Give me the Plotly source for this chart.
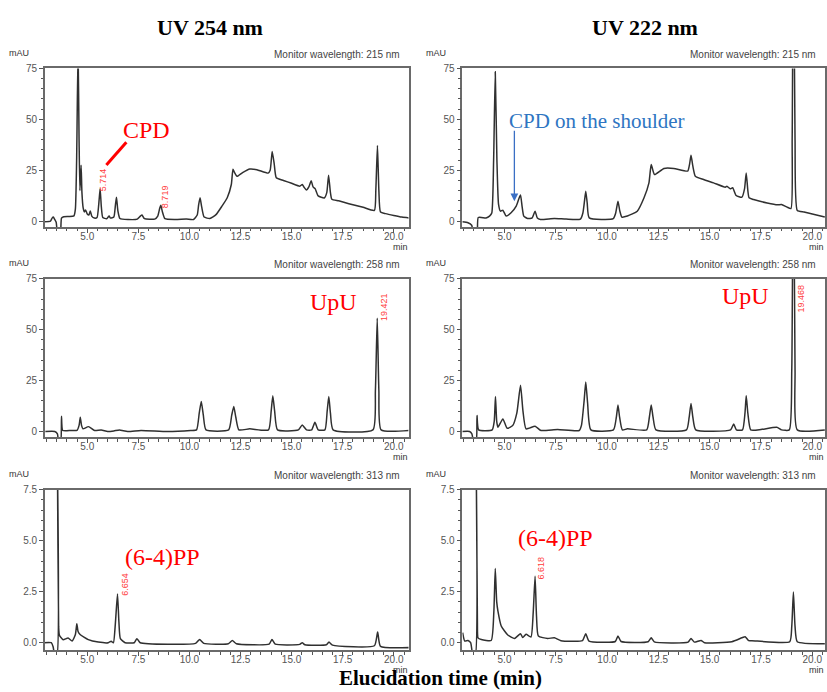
import plotly.graph_objects as go

W, H = 827, 692

# ---------------- data (time in min, absorbance in mAU) ----------------
t_254_215 = [2.88, 3.2, 3.28, 3.34, 3.4, 3.48, 3.55, 3.68, 3.74, 3.85, 4.1, 4.35, 4.42, 4.48, 4.55, 4.6, 4.64, 4.7, 4.74, 4.8, 4.86, 4.92, 5.0, 5.08, 5.15, 5.22, 5.35, 5.48, 5.56, 5.63, 5.69, 5.76, 5.95, 6.07, 6.14, 6.3, 6.38, 6.43, 6.5, 6.6, 7.0, 7.45, 7.6, 7.68, 7.8, 8.3, 8.45, 8.55, 8.6, 8.68, 8.8, 9.3, 9.85, 10.2, 10.38, 10.45, 10.52, 10.6, 10.72, 11.0, 11.3, 11.6, 11.85, 12.05, 12.13, 12.2, 12.33, 12.6, 12.95, 13.3, 13.85, 13.95, 14.05, 14.15, 14.25, 14.6, 15.0, 15.4, 15.52, 15.6, 15.72, 15.85, 15.96, 16.05, 16.15, 16.3, 16.6, 16.72, 16.81, 16.9, 16.97, 17.3, 17.8, 18.5, 19.05, 19.12, 19.2, 19.27, 19.35, 19.6, 20.0, 20.4, 20.8]
a_254_215 = [-0.3, 0.0, 1.5, 2.0, 1.0, -0.5, -6, -6, 1.5, 2.2, 2.3, 2.6, 6, 30, 85, 40, 15, 27.5, 14, 6.5, 4.5, 5.5, 3.5, 3.0, 5.0, 2.5, 1.5, 1.8, 8, 15.9, 7, 1.8, 1.2, 2.5, 1.5, 2.0, 8, 11.8, 5, 1.3, 0.8, 1.0, 2.5, 3.0, 1.2, 1.0, 2.5, 6.5, 7.8, 4.5, 1.2, 0.8, 1.0, 0.8, 3, 8, 11.5, 7, 2, 1.3, 3.2, 7.5, 11.5, 18, 25.5, 24.0, 22.0, 23.8, 25.6, 25.3, 23.6, 25, 34.2, 28, 21.3, 20, 18.6, 17.2, 18.0, 16.8, 15.3, 17, 19.8, 16.8, 16.0, 12.4, 11.4, 14, 22.6, 14, 10.8, 10.0, 8.6, 6.8, 5.3, 15, 37.2, 15, 4.5, 3.7, 2.8, 2.0, 1.5]

t_222_215 = [2.94, 3.22, 3.4, 3.5, 3.66, 3.72, 4.1, 4.27, 4.38, 4.47, 4.55, 4.63, 4.71, 4.8, 4.92, 5.08, 5.32, 5.57, 5.7, 5.78, 5.86, 5.94, 6.13, 6.35, 6.49, 6.6, 6.75, 7.43, 8.0, 8.7, 8.82, 8.9, 8.96, 9.03, 9.13, 10.3, 10.42, 10.53, 10.62, 10.72, 10.99, 11.47, 11.8, 12.04, 12.15, 12.31, 12.77, 13.25, 13.93, 14.02, 14.09, 14.18, 14.3, 14.7, 15.19, 15.76, 15.84, 16.0, 16.12, 16.29, 16.57, 16.7, 16.78, 16.86, 16.92, 17.14, 17.8, 18.3, 18.5, 18.75, 18.96, 19.02, 19.08, 19.16, 19.27, 19.6, 20.0, 20.61]
a_222_215 = [-0.3, -0.8, -2.0, -6, -6, 1.8, 1.6, 2.5, 4, 30, 73.4, 30, 8.2, 4.9, 5.4, 2.5, 4.1, 7.4, 11, 12.8, 7, 2.5, 1.3, 1.6, 4.9, 1.5, 0.8, 1.3, 1.0, 1.0, 4, 10, 14.7, 9, 1.6, 1.2, 4, 9.8, 5, 2, 2.5, 4.9, 11.5, 18.8, 27.8, 22.9, 25.9, 25.9, 24.6, 28, 32.4, 27, 22.1, 20.5, 18.8, 16.7, 17.2, 15.9, 16.4, 12.6, 11.8, 16, 23.7, 15, 11.5, 10.6, 8.9, 8.0, 8.2, 7.0, 6.2, 40, 150, 40, 5.2, 4.5, 3.5, 2.0]

t_254_258 = [2.95, 3.41, 3.54, 3.6, 3.7, 3.74, 3.8, 4.2, 4.5, 4.6, 4.66, 4.72, 4.79, 5.06, 5.36, 5.68, 6.0, 6.3, 6.57, 6.98, 7.63, 8.92, 10.06, 10.35, 10.48, 10.58, 10.68, 10.81, 11.92, 12.07, 12.17, 12.27, 12.42, 12.95, 13.87, 14.0, 14.08, 14.17, 14.31, 15.33, 15.52, 15.73, 15.98, 16.14, 16.3, 16.63, 16.74, 16.82, 16.9, 17.03, 18.98, 19.1, 19.19, 19.27, 19.38, 20.73]
a_254_258 = [0, 0, -1.1, -5, -5, 7.5, 0.5, 0.5, 0.6, 3, 7.0, 3, 1.3, 2.4, 0.5, 0.8, 0.0, 0.3, 0.8, 0.0, 0.5, 0.0, 0.5, 0.8, 9, 14.7, 8, 0.8, 0.8, 8, 12.3, 7, 0.8, 1.3, 0.8, 10, 17.5, 10, 0.8, 0.8, 3.2, 0.8, 0.8, 4.5, 0.8, 0.8, 10, 17.2, 9, 0.8, 0.8, 20, 55.6, 20, 0.8, 0.5]

t_222_258 = [2.94, 3.3, 3.41, 3.5, 3.62, 3.66, 3.74, 4.4, 4.5, 4.56, 4.62, 4.68, 4.92, 5.13, 5.4, 5.6, 5.78, 5.9, 6.05, 6.49, 6.78, 7.59, 8.64, 8.75, 8.88, 8.96, 9.05, 9.21, 10.31, 10.45, 10.53, 10.61, 10.74, 10.99, 11.93, 12.06, 12.15, 12.24, 12.38, 13.87, 14.0, 14.09, 14.18, 14.32, 16.02, 16.17, 16.3, 16.6, 16.72, 16.78, 16.86, 17.0, 17.5, 18.27, 18.5, 18.88, 19.0, 19.08, 19.16, 19.27, 20.61]
a_222_258 = [0, 0, -1.1, -5, -5, 7.8, 0.8, 0.8, 5, 17.2, 5, 2.1, 6.2, 1.6, 2.9, 9, 22.7, 10, 1.3, 2.6, 0.5, 1.0, 0.5, 3, 15, 24.3, 14, 0.8, 0.8, 7, 13, 7, 0.8, 1.3, 0.8, 7, 13, 7, 0.8, 0.8, 7, 13.8, 7, 0.8, 0.8, 3.7, 0.8, 0.8, 9, 17.5, 9, 0.8, 1.0, 2.1, 0.8, 0.8, 30, 160, 30, 0.8, 0.8]

t_254_313 = [2.83, 3.24, 3.33, 3.41, 3.52, 3.54, 3.6, 3.64, 3.82, 4.06, 4.26, 4.42, 4.49, 4.55, 4.65, 5.05, 5.54, 6.03, 6.17, 6.28, 6.38, 6.48, 6.55, 6.62, 6.85, 7.3, 7.43, 7.59, 10.3, 10.5, 10.7, 11.9, 12.1, 12.3, 13.9, 14.04, 14.2, 15.4, 15.52, 15.65, 16.7, 16.83, 17.0, 19.05, 19.21, 19.35, 20.77]
a_254_313 = [0, 0, -0.2, -0.6, -0.6, 9, 0.8, 0.36, 0.15, 0.23, 0.08, 0.4, 0.93, 0.55, 0.4, 0.15, 0.03, 0.0, 0.07, 0.0, 1.0, 2.39, 1.0, 0.2, 0.0, 0.0, 0.2, 0.0, -0.03, 0.16, -0.03, -0.05, 0.11, -0.05, -0.07, 0.16, -0.07, -0.08, 0.0, -0.1, -0.1, 0.03, -0.12, -0.15, 0.52, -0.18, -0.24]

t_222_313 = [2.96, 3.06, 3.22, 3.35, 3.46, 3.58, 3.62, 3.68, 3.71, 3.87, 4.35, 4.48, 4.55, 4.62, 4.68, 4.84, 5.16, 5.49, 5.78, 5.89, 6.05, 6.29, 6.4, 6.49, 6.56, 6.65, 7.1, 7.43, 7.75, 8.8, 8.96, 9.12, 10.4, 10.53, 10.68, 12.0, 12.15, 12.3, 13.95, 14.09, 14.25, 14.58, 14.75, 16.08, 16.57, 16.73, 16.9, 17.06, 18.9, 19.0, 19.08, 19.16, 19.27, 20.61]
a_222_313 = [0.49, 0.08, 0.11, 0.0, -0.6, -0.6, 9, 1.0, 0.24, 0.16, 0.11, 1.5, 3.64, 2.0, 1.55, 0.82, 0.38, 0.21, 0.44, 0.25, 0.41, 0.28, 1.5, 3.26, 1.3, 0.33, 0.21, 0.24, 0.1, 0.1, 0.44, 0.08, 0.06, 0.33, 0.06, 0.05, 0.24, 0.04, 0.03, 0.21, 0.03, 0.11, 0.0, 0.05, 0.24, 0.29, 0.1, 0.1, 0.05, 0.8, 2.49, 0.8, 0.05, -0.05]

column_titles = ["UV 254 nm", "UV 222 nm"]
monitor_labels = ["Monitor wavelength: 215 nm", "Monitor wavelength: 258 nm", "Monitor wavelength: 313 nm"]
x_ticks = [5.0, 7.5, 10.0, 12.5, 15.0, 17.5, 20.0]
y_ticks_high = [0, 25, 50, 75]
y_ticks_low = [0.0, 2.5, 5.0, 7.5]

# ---------------- layout geometry (pixels) ----------------
def px(x):
    return x / W

def py(y):
    return 1 - y / H

col_px = [(45, 409), (463, 826)]
row_px = [(63, 223), (275, 435), (488, 650)]
x_ranges = [[2.93, 20.72], [2.95, 20.62]]
y_ranges = [[-2.9, 75], [-2.8, 75], [-0.375, 7.5]]

panels = [
    (0, 0, t_254_215, a_254_215),
    (0, 1, t_222_215, a_222_215),
    (1, 0, t_254_258, a_254_258),
    (1, 1, t_222_258, a_222_258),
    (2, 0, t_254_313, a_254_313),
    (2, 1, t_222_313, a_222_313),
]

fig = go.Figure()
layout = {}
annotations = []
tickfont = dict(family="Liberation Sans, Arial", size=10, color="#555")


def note(text, x, y, size, color, family="Liberation Sans, Arial", xanchor="center", angle=0):
    annotations.append(dict(text=text, x=px(x), y=py(y), xref="paper", yref="paper", showarrow=False,
                            xanchor=xanchor, yanchor="middle", textangle=angle,
                            font=dict(family=family, size=size, color=color)))


for i, (r, c, t, a) in enumerate(panels, start=1):
    xa = "x" if i == 1 else f"x{i}"
    ya = "y" if i == 1 else f"y{i}"
    fig.add_trace(go.Scatter(x=t, y=a, mode="lines", xaxis=xa, yaxis=ya,
                             line=dict(color="#303030", width=1.5, shape="spline", smoothing=0.5),
                             showlegend=False, hoverinfo="skip"))
    x0, x1 = col_px[c]
    y0, y1 = row_px[r]
    low = (r == 2)
    layout["xaxis" if i == 1 else f"xaxis{i}"] = dict(
        domain=[px(x0), px(x1)], anchor=ya, range=x_ranges[c],
        showline=True, mirror=True, linecolor="#6a6a6a", linewidth=1.6,
        ticks="outside", ticklen=4, tickcolor="#555", tickwidth=1,
        tickvals=x_ticks, ticktext=[f"{v:.1f}" for v in x_ticks],
        minor=dict(ticks="outside", ticklen=2.5, tickcolor="#555", dtick=0.5, tick0=0, showgrid=False),
        showgrid=False, zeroline=False, tickfont=tickfont, ticklabelstandoff=-5,
    )
    yt = y_ticks_low if low else y_ticks_high
    layout["yaxis" if i == 1 else f"yaxis{i}"] = dict(
        domain=[py(y1), py(y0)], anchor=xa, range=y_ranges[r],
        showline=True, mirror=True, linecolor="#6a6a6a", linewidth=1.6,
        ticks="outside", ticklen=4, tickcolor="#555", tickwidth=1,
        tickvals=yt, ticktext=[f"{v:.1f}" if low else f"{v:g}" for v in yt],
        minor=dict(ticks="outside", ticklen=2.5, tickcolor="#555",
                   dtick=(0.5 if low else 5), tick0=0, showgrid=False),
        showgrid=False, zeroline=False, tickfont=tickfont, ticklabelstandoff=0,
    )
    note("mAU", x0 - 26, y0 - 16, 9, "#333")
    note(monitor_labels[r], x1 - 7, y0 - 14, 10, "#444", xanchor="right")
    note("min", x1 + 1, y1 + 20, 9, "#333", xanchor="right")

serif = "Liberation Serif, Times New Roman, serif"
note("<b>%s</b>" % column_titles[0], 210, 22, 22, "black", family=serif)
note("<b>%s</b>" % column_titles[1], 646, 22, 22, "black", family=serif)
note("<b>Elucidation time (min)</b>", 441, 678, 21, "black", family=serif)

red = "#ff0000"
note("CPD", 147, 125, 24, red, family=serif)
note("UpU", 334, 299, 24, red, family=serif)
note("UpU", 746, 293, 24, red, family=serif)
note("(6-4)PP", 163, 556, 24, red, family=serif)
note("(6-4)PP", 556, 537, 24, red, family=serif)
note("CPD on the shoulder", 598, 116, 21, "#2e75c2", family=serif)

for txt, xx, yy in [("5.714", 104, 175), ("8.719", 166, 192), ("19.421", 385, 304),
                    ("19.468", 802, 295), ("6.654", 125, 583), ("6.618", 542, 567)]:
    note(txt, xx, yy, 9, "#ff3b3b", angle=-90)

# blue arrow for CPD shoulder
annotations.append(dict(x=px(515), y=py(197), ax=0, ay=-72, xref="paper", yref="paper",
                        showarrow=True, arrowhead=2, arrowsize=1.2,
                        arrowwidth=1.3, arrowcolor="#3a6fc4", text=""))

shapes = [dict(type="line", xref="paper", yref="paper", x0=px(126.5), y0=py(137.5), x1=px(106.5), y1=py(160.5),
               line=dict(color=red, width=3))]

fig.update_layout(**layout)
fig.update_layout(width=W, height=H, margin=dict(l=0, r=0, t=0, b=0),
                  paper_bgcolor="white", plot_bgcolor="white",
                  annotations=annotations, shapes=shapes, showlegend=False)

fig.write_html("out.html")
